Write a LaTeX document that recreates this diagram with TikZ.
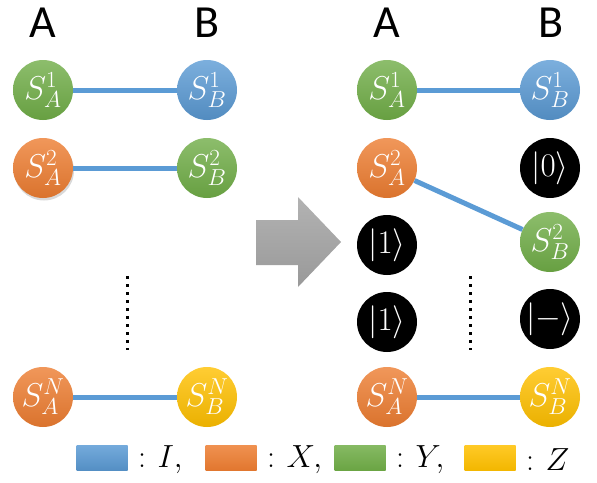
\RequirePackage{fix-cm}
\documentclass[tikz,border=0pt]{standalone}
\usepackage{fontspec}
\setmainfont{Carlito}
\usepackage{tikz}
\usepackage{xcolor}
\usetikzlibrary{shadows}
\definecolor{pauliIc}{HTML}{5B9BD5}
\definecolor{pauliXc}{HTML}{ED7D31}
\definecolor{pauliYc}{HTML}{70AD47}
\definecolor{pauliZc}{HTML}{FFC000}
\tikzstyle{qubit} = [
    circle,
    minimum size=60pt,
    inner sep=0pt,
    text=white,
    font=\fontsize{33}{35}\selectfont
    ]
\tikzstyle{qI} = [qubit, top color=pauliIc!80!white, bottom color=pauliIc!90!black]
\tikzstyle{qX} = [qubit, top color=pauliXc!80!white, bottom color=pauliXc!92!black]
\tikzstyle{qY} = [qubit, top color=pauliYc!80!white, bottom color=pauliYc!92!black]
\tikzstyle{qZ} = [qubit, top color=pauliZc!80!white, bottom color=pauliZc!92!black]
\tikzstyle{ket} = [qubit, fill=black]
\tikzstyle{bond} = [draw=pauliIc, line width=5pt]
\tikzstyle{vdots} = [line width=3pt, dash pattern=on 3pt off 5pt]
\tikzstyle{party} = [font=\fontsize{46}{50}\selectfont]
\tikzstyle{legendbox} = [rectangle, minimum width=51pt, minimum height=25pt, inner sep=0pt]
\tikzstyle{legendtext} = [anchor=west, inner sep=0pt, font=\fontsize{32}{34}\selectfont]

\begin{document}
\begin{tikzpicture}[x=1pt, y=-1pt]
\useasboundingbox (0,0) rectangle (597,482);

% before
\node[party] (la) at (43,23) {A};
\node[party] (lb) at (207,23) {B};
\node[qY] (a1) at (43,90) {$S^1_A$};
\node[qI] (b1) at (207,90) {$S^1_B$};
\node[qX, drop shadow={opacity=0.3, shadow xshift=1pt, shadow yshift=-2.5pt}] (a2) at (43,168) {$S^2_A$};
\node[qY] (b2) at (207,168) {$S^2_B$};
\node[qX] (aN) at (43,397) {$S^N_A$};
\node[qZ] (bN) at (207,397) {$S^N_B$};
\draw[bond] (a1) -- (b1);
\draw[bond] (a2) -- (b2);
\draw[bond] (aN) -- (bN);
\draw[vdots] (127,276) -- (127,350);

% arrow
\shade[top color=black!30, bottom color=black!40]
    (256,220) -- (298,220) -- (298,197) -- (341,242) -- (298,287) -- (298,265) -- (256,265) -- cycle;

% after
\node[party] (ra) at (387,23) {A};
\node[party] (rb) at (551,23) {B};
\node[qY] (c1) at (387,90) {$S^1_A$};
\node[qI] (d1) at (550,90) {$S^1_B$};
\node[qX] (c2) at (387,168) {$S^2_A$};
\node[ket] (d0) at (550,168) {$|0\rangle$};
\node[ket] (c3) at (387,245) {$|1\rangle$};
\node[qY] (d2) at (550,242) {$S^2_B$};
\node[ket] (c4) at (387,322) {$|1\rangle$};
\node[ket] (d4) at (550,319) {$|-\rangle$};
\node[qX] (cN) at (387,397) {$S^N_A$};
\node[qZ] (dN) at (550,397) {$S^N_B$};
\draw[bond] (c1) -- (d1);
\draw[bond] (c2) -- (d2);
\draw[bond] (cN) -- (dN);
\draw[vdots] (470,276) -- (470,350);

% legend
\node[legendbox, top color=pauliIc!85!white, bottom color=pauliIc!92!black] (kI) at (102,458) {};
\node[legendtext] (tI) at (138,460) {$\mathord{:}\hspace{0.36em}I,$};
\node[legendbox, top color=pauliXc!85!white, bottom color=pauliXc!95!black] (kX) at (231,458) {};
\node[legendtext] (tX) at (267,460) {$\mathord{:}\hspace{0.36em}X,$};
\node[legendbox, top color=pauliYc!85!white, bottom color=pauliYc!95!black] (kY) at (360,458) {};
\node[legendtext] (tY) at (396,460) {$\mathord{:}\hspace{0.36em}Y,$};
\node[legendbox, top color=pauliZc!85!white, bottom color=pauliZc!95!black] (kZ) at (490,458) {};
\node[legendtext] (tZ) at (526,460) {$\mathord{:}\hspace{0.36em}Z$};
\end{tikzpicture}
\end{document}
